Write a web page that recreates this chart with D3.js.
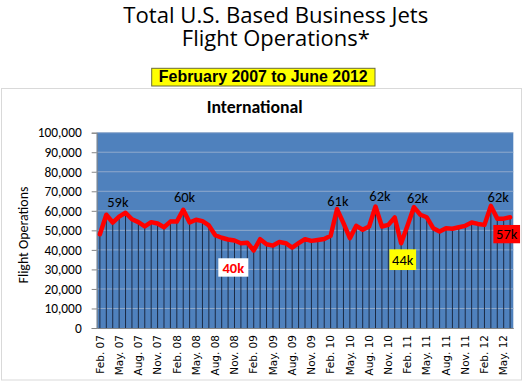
<!DOCTYPE html>
<html><head><meta charset="utf-8">
<script src="https://cdn.jsdelivr.net/npm/d3@7"></script>
<style>body{margin:0;background:#fff;overflow:hidden}</style>
</head><body>
<svg id="c" width="525" height="383"></svg>
<script>
// ---------------- DATA ----------------
const months = [
  "Feb. 07","Mar. 07","Apr. 07","May. 07","Jun. 07","Jul. 07","Aug. 07","Sep. 07","Oct. 07","Nov. 07","Dec. 07","Jan. 08",
  "Feb. 08","Mar. 08","Apr. 08","May. 08","Jun. 08","Jul. 08","Aug. 08","Sep. 08","Oct. 08","Nov. 08","Dec. 08","Jan. 09",
  "Feb. 09","Mar. 09","Apr. 09","May. 09","Jun. 09","Jul. 09","Aug. 09","Sep. 09","Oct. 09","Nov. 09","Dec. 09","Jan. 10",
  "Feb. 10","Mar. 10","Apr. 10","May. 10","Jun. 10","Jul. 10","Aug. 10","Sep. 10","Oct. 10","Nov. 10","Dec. 10","Jan. 11",
  "Feb. 11","Mar. 11","Apr. 11","May. 11","Jun. 11","Jul. 11","Aug. 11","Sep. 11","Oct. 11","Nov. 11","Dec. 11","Jan. 12",
  "Feb. 12","Mar. 12","Apr. 12","May. 12","Jun. 12"
];
const flightOps = [
  48000,58000,54000,57000,59000,55700,54200,52000,54200,53500,51600,54500,
  54500,60500,54000,55400,54700,52500,47500,46200,45300,44800,43400,43700,
  39700,45500,42900,42200,44000,43400,41200,43400,45500,44600,45100,45600,
  47200,60900,53700,46000,52300,50300,52000,62200,52000,52800,56600,43400,
  52500,61900,58000,56700,51100,49400,51100,50800,51600,52300,54000,53300,
  52800,62500,56000,56000,56700
];
const xTickLabels = ["Feb. 07","May. 07","Aug. 07","Nov. 07","Feb. 08","May. 08","Aug. 08","Nov. 08",
  "Feb. 09","May. 09","Aug. 09","Nov. 09","Feb. 10","May. 10","Aug. 10","Nov. 10",
  "Feb. 11","May. 11","Aug. 11","Nov. 11","Feb. 12","May. 12"];
const yTicks = [0,10000,20000,30000,40000,50000,60000,70000,80000,90000,100000];
const peakText  = ["59k","60k","61k","62k","62k","62k"];
const peakMonth = ["Jun. 07","Mar. 08","Mar. 10","Sep. 10","Mar. 11","Mar. 12"];
const boxText   = ["40k","44k","57k"];
const boxMonth  = ["Feb. 09","Jan. 11","Jun. 12"];

// ---------------- LAYOUT / STYLE ----------------
const plot = {left: 96.7, right: 513.3, top: 132.7, bottom: 328};
const peakOffset = [[-7.7,-5.5],[1.3,-8.1],[0.8,-3.1],[4.5,-5.8],[3.6,-3.8],[7.4,-4.2]];
const boxStyle = [
  {dx:-20.4, dy:7.8, w:30, h:18.4, fill:"#ffffff", color:"#ff0000", weight:"bold"},
  {dx:1.6,  dy:6.1, w:26.7, h:20.7, fill:"#ffff00", color:"#000000", weight:"normal"},
  {dx:-3.4, dy:7.7, w:26.7, h:18.3, fill:"#ff0000", color:"#000000", weight:"normal"}
];
const cal = "Carlito, Lato, 'Open Sans', sans-serif";
const titleFont = "'Open Sans', Lato, sans-serif";

const svg = d3.select("#c");

function fitWidth(sel, target){
  const w = sel.node().getComputedTextLength();
  const fs = parseFloat(sel.attr("font-size"));
  if (w > 0) sel.attr("font-size", fs * target / w);
}

// Titles
const t1 = svg.append("text").attr("x", 275.8).attr("y", 22.5).attr("text-anchor","middle")
  .attr("font-family", titleFont).attr("font-size", 22).attr("fill","#000").text("Total U.S. Based Business Jets");
fitWidth(t1, 305);
const t2 = svg.append("text").attr("x", 275.8).attr("y", 46).attr("text-anchor","middle")
  .attr("font-family", titleFont).attr("font-size", 22).attr("fill","#000").text("Flight Operations*");
fitWidth(t2, 188);

// Chart frame
svg.append("rect").attr("x",1.5).attr("y",88.5).attr("width",520).attr("height",291.5)
  .attr("fill","#fff").attr("stroke","#d9d9d9").attr("stroke-width",1);

// Yellow subtitle box
svg.append("rect").attr("x",151.7).attr("y",68.3).attr("width",223.3).attr("height",17.7)
  .attr("fill","#ffff00").attr("stroke","#6b6b3a").attr("stroke-width",1);
const st = svg.append("text").attr("x", 263.3).attr("y", 82.3).attr("text-anchor","middle")
  .attr("font-family","'Liberation Sans', Arial, sans-serif").attr("font-weight","bold")
  .attr("font-size",14).attr("fill","#000").text("February 2007 to June 2012");
fitWidth(st, 209);

// Chart title
const ct = svg.append("text").attr("x", 254.7).attr("y", 113.3).attr("text-anchor","middle")
  .attr("font-family", cal).attr("font-weight","bold").attr("font-size",16).attr("fill","#000").text("International");
fitWidth(ct, 96);

// Scales
const x = d3.scaleBand().domain(months).range([plot.left, plot.right]).padding(0);
const xc = m => x(m) + x.bandwidth()/2;
const y = d3.scaleLinear().domain([0,100000]).range([plot.bottom, plot.top]);

// Plot background
svg.append("rect").attr("x",plot.left).attr("y",plot.top)
  .attr("width",plot.right-plot.left).attr("height",plot.bottom-plot.top).attr("fill","#4f81bd");

// Gridlines
svg.append("g").selectAll("line").data(yTicks.filter(d=>d>0)).join("line")
  .attr("x1",plot.left).attr("x2",plot.right).attr("y1",d=>y(d)).attr("y2",d=>y(d))
  .attr("stroke","#8fa9cc").attr("stroke-width",1);

// Drop lines
svg.append("g").selectAll("line").data(flightOps).join("line")
  .attr("x1",(d,i)=>xc(months[i])).attr("x2",(d,i)=>xc(months[i]))
  .attr("y1",d=>y(d)).attr("y2",plot.bottom)
  .attr("stroke","#1b2a44").attr("stroke-width",1);

// Y axis
const yAxis = svg.append("g").attr("transform",`translate(${plot.left},0)`)
  .call(d3.axisLeft(y).tickValues(yTicks).tickFormat(d3.format(",")).tickSize(5).tickPadding(10));
yAxis.select(".domain").attr("stroke","#868686");
yAxis.selectAll(".tick line").attr("stroke","#868686");
yAxis.selectAll(".tick text").attr("font-family",cal).attr("font-size",13.4).attr("fill","#000");

// X axis
const xAxis = svg.append("g").attr("transform",`translate(0,${plot.bottom})`)
  .call(d3.axisBottom(x).tickValues(xTickLabels).tickSize(0).tickPadding(0));
xAxis.select(".domain").attr("stroke","#868686");
xAxis.selectAll(".tick text")
  .attr("font-family","'DejaVu Sans', Verdana, sans-serif").attr("font-size",10.5).attr("fill","#000")
  .attr("transform","rotate(-90)").attr("text-anchor","end")
  .attr("x",-7).attr("y",0).attr("dy","0.35em");

// Y axis title
const yt = svg.append("text").attr("transform","translate(27.5,235) rotate(-90)").attr("text-anchor","middle")
  .attr("font-family",cal).attr("font-size",15).attr("fill","#000").text("Flight Operations");
fitWidth(yt, 97);

// Line
const line = d3.line().x((d,i)=>xc(months[i])).y(d=>y(d));
svg.append("path").datum(flightOps).attr("d",line).attr("fill","none")
  .attr("stroke","#ff0000").attr("stroke-width",4.5).attr("stroke-linejoin","round").attr("stroke-linecap","round");

// Peak labels
peakText.forEach((t,k)=>{
  const i = months.indexOf(peakMonth[k]);
  svg.append("text").attr("x", xc(months[i]) + peakOffset[k][0]).attr("y", y(flightOps[i]) + peakOffset[k][1])
    .attr("text-anchor","middle").attr("font-family",cal).attr("font-size",14.5).attr("fill","#000").text(t);
});

// Boxed labels
boxText.forEach((t,k)=>{
  const i = months.indexOf(boxMonth[k]);
  const s = boxStyle[k];
  const cx = xc(months[i]) + s.dx, top = y(flightOps[i]) + s.dy;
  svg.append("rect").attr("x",cx-s.w/2).attr("y",top).attr("width",s.w).attr("height",s.h).attr("fill",s.fill);
  svg.append("text").attr("x",cx).attr("y",top+s.h/2).attr("dy","0.36em").attr("text-anchor","middle")
    .attr("font-family",cal).attr("font-weight",s.weight).attr("font-size",14.5).attr("fill",s.color).text(t);
});
</script>
</body></html>
